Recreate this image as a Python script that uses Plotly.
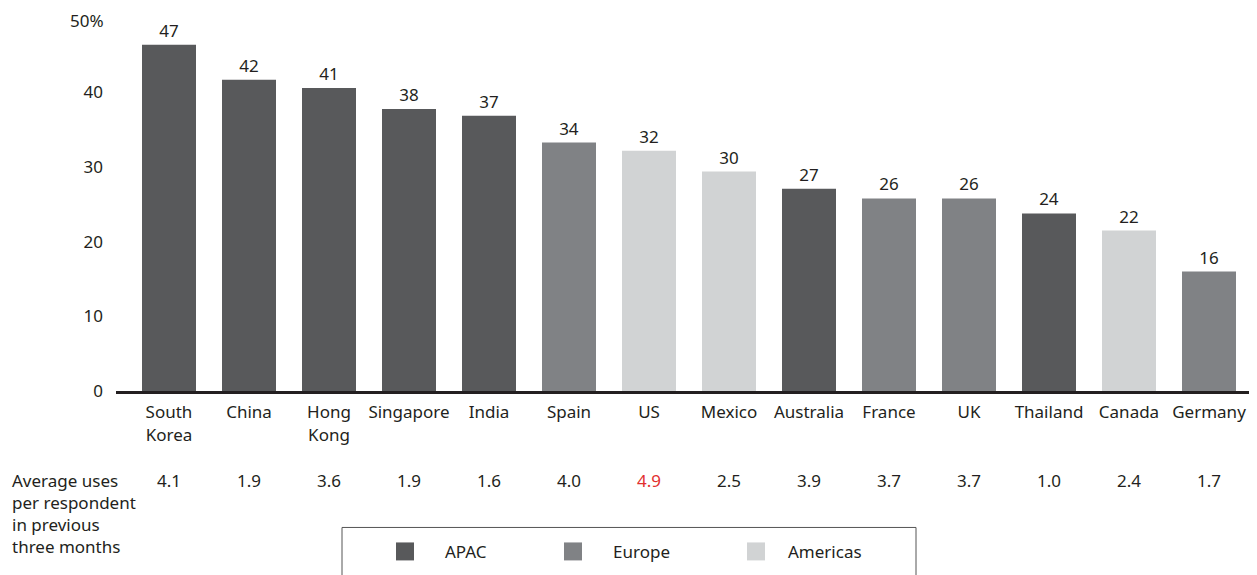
import plotly.graph_objects as go

countries = ["South<br>Korea", "China", "Hong<br>Kong", "Singapore", "India", "Spain", "US",
             "Mexico", "Australia", "France", "UK", "Thailand", "Canada", "Germany"]
share_pct = [46.4, 41.7, 40.6, 37.8, 36.9, 33.3, 32.2, 29.4, 27.1, 25.8, 25.8, 23.8, 21.5, 16.0]
share_labels = ["47", "42", "41", "38", "37", "34", "32", "30", "27", "26", "26", "24", "22", "16"]
regions = ["APAC", "APAC", "APAC", "APAC", "APAC", "Europe", "Americas", "Americas", "APAC",
           "Europe", "Europe", "APAC", "Americas", "Europe"]
avg_uses = ["4.1", "1.9", "3.6", "1.9", "1.6", "4.0", "4.9", "2.5", "3.9", "3.7", "3.7", "1.0", "2.4", "1.7"]
highlight = "US"
y_ticks = [0, 10, 20, 30, 40, 50]
y_ticktext = ["0", "10", "20", "30", "40", "50%"]
legend_names = ["APAC", "Europe", "Americas"]

region_colors = {"APAC": "#58595b", "Europe": "#808285", "Americas": "#d1d3d4"}
TXT = "#231f20"
RED = "#e2302f"
FONT = "Noto Sans"

OFF = 8  # page body margin
W, H = 1257 - OFF, 575 - OFF
L, R, T, B = 108, 5, 2, 183.6
PW, PH = W - L - R, H - T - B


def px(x):
    return (x - OFF - L) / PW


def py(y):
    return (H - B - (y - OFF)) / PH


xi = list(range(len(countries)))
fig = go.Figure()
fig.add_trace(go.Bar(
    x=xi, y=share_pct,
    marker=dict(color=[region_colors[r] for r in regions], line=dict(width=0)),
    text=share_labels, textposition="outside", cliponaxis=False,
    textfont=dict(size=17, color=TXT, family=FONT),
    hoverinfo="skip", showlegend=False,
))

fig.update_layout(
    width=W, height=H,
    margin=dict(l=L, r=R, t=T, b=B, pad=0, autoexpand=False),
    paper_bgcolor="white", plot_bgcolor="white",
    bargap=0.325,
    font=dict(family=FONT, size=17, color=TXT),
    xaxis=dict(
        range=[-0.6625, 13.5375], tickmode="array", tickvals=xi, ticktext=countries,
        showgrid=False, zeroline=False, showline=True, linewidth=3, linecolor=TXT,
        ticks="", tickfont=dict(size=17, color=TXT, family=FONT), ticklabelstandoff=4,
        automargin=False, fixedrange=True,
    ),
    yaxis=dict(
        range=[0, (H - B - T) / 74.7 * 10], tickmode="array",
        tickvals=y_ticks[:-1], ticktext=y_ticktext[:-1],
        showgrid=False, zeroline=False, showline=False, ticks="",
        tickfont=dict(size=17, color=TXT, family=FONT), ticklabelstandoff=12,
        automargin=False, fixedrange=True,
    ),
)

annotations = []
# top tick label placed as annotation so it stays inside the figure
annotations.append(dict(
    x=px(105), xref="paper", y=py(OFF), yref="paper", text=y_ticktext[-1], showarrow=False,
    xanchor="right", yanchor="top", borderpad=0,
    font=dict(size=17, color=TXT, family=FONT),
))
for i, (c, v) in enumerate(zip(countries, avg_uses)):
    annotations.append(dict(
        x=i, xref="x", y=py(481), yref="paper", text=v, showarrow=False,
        xanchor="center", yanchor="middle",
        font=dict(size=17, color=RED if c == highlight else TXT, family=FONT),
    ))
annotations.append(dict(
    x=px(10), xref="paper", y=py(467), yref="paper",
    text="Average uses<br>per respondent<br>in previous<br>three months",
    showarrow=False, xanchor="left", yanchor="top", align="left",
    font=dict(size=17, color=TXT, family=FONT),
))

shapes = [dict(type="rect", xref="paper", yref="paper", x0=px(342), x1=px(916), y0=py(528), y1=py(590),
               line=dict(color="#555555", width=1), fillcolor="rgba(0,0,0,0)")]
sq_x = [396, 564, 747]
txt_x = [443, 611, 786]
for name, sx, tx in zip(legend_names, sq_x, txt_x):
    shapes.append(dict(type="rect", xref="paper", yref="paper", x0=px(sx), x1=px(sx + 18),
                       y0=py(543), y1=py(561), line=dict(width=0), fillcolor=region_colors[name]))
    annotations.append(dict(x=px(tx), xref="paper", y=py(552), yref="paper", text=name,
                            showarrow=False, xanchor="left", yanchor="middle",
                            font=dict(size=17, color=TXT, family=FONT)))

fig.update_layout(annotations=annotations, shapes=shapes)
fig.write_html("out.html")
